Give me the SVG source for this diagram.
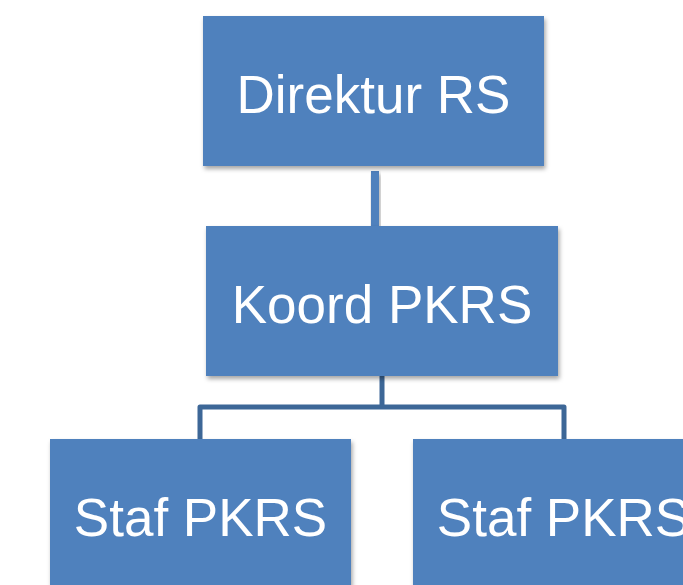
<svg xmlns="http://www.w3.org/2000/svg" width="683" height="585" viewBox="0 0 683 585">
<defs>
<filter id="sh" x="-10%" y="-10%" width="130%" height="130%">
<feDropShadow dx="1.5" dy="3" stdDeviation="2" flood-color="#000" flood-opacity="0.35"/>
</filter>
<style>
.box{fill:#4f81bd;filter:url(#sh)}
.lbl{font-family:"Liberation Sans",Arial,sans-serif;font-size:53px;fill:#fff;text-anchor:middle}
.c1{fill:#4f81bd;filter:url(#sh)}
.c2{stroke:#3d6797;stroke-width:5;fill:none;stroke-linejoin:round}
</style>
</defs>
<rect width="683" height="585" fill="#fff"/>
<g id="connectors">
<rect class="c1" x="371" y="171" width="8" height="56"/>
<path class="c2" d="M382,376 V407 M200,440 V407 H564 V440"/>
</g>
<g id="direktur">
<rect class="box" x="203" y="16" width="341" height="150"/>
<text class="lbl" x="373.5" y="113">Direktur RS</text>
</g>
<g id="koord">
<rect class="box" x="206" y="226" width="352" height="150"/>
<text class="lbl" x="382" y="323">Koord PKRS</text>
</g>
<g id="staf1">
<rect class="box" x="50" y="439" width="301" height="150"/>
<text class="lbl" x="200.5" y="536">Staf PKRS</text>
</g>
<g id="staf2">
<rect class="box" x="413" y="439" width="301" height="150"/>
<text class="lbl" x="563.5" y="536">Staf PKRS</text>
</g>
</svg>
